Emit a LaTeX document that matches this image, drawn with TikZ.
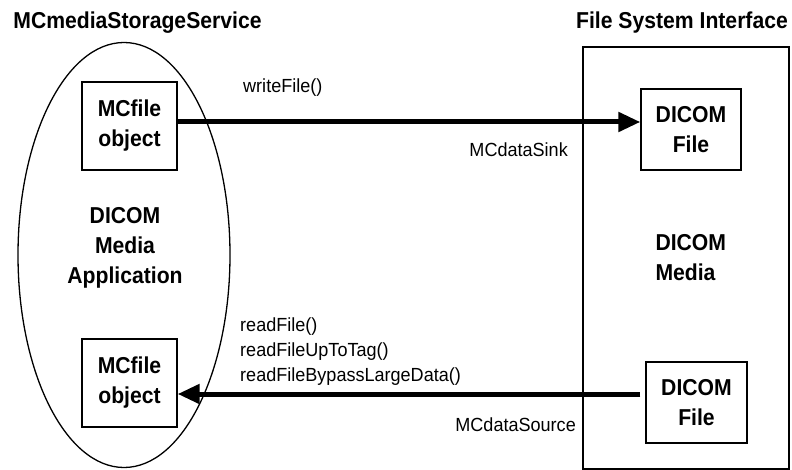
\documentclass[tikz,border=0pt]{standalone}
\usepackage{fontspec}
\setmainfont{Liberation Sans}[FakeStretch=0.95]
\newfontfamily\heavyfont{Liberation Sans Bold}[FakeStretch=0.92]
\usetikzlibrary{shapes.geometric,arrows.meta}

\begin{document}
\begin{tikzpicture}[x=1pt,y=-1pt,
  title/.style={font=\heavyfont\fontsize{23}{25}\selectfont},
  box/.style={draw, line width=1.3pt, inner sep=0pt, align=center, font=\heavyfont\fontsize{23}{30}\selectfont},
  big/.style={align=center, font=\heavyfont\fontsize{23}{30}\selectfont},
  lbl/.style={inner sep=0pt, align=left, font=\fontsize{19}{25}\selectfont},
  flow/.style={line width=5pt, -{Triangle[length=22pt,width=19pt]}}]
\useasboundingbox (0,0) rectangle (792,470);

\node[title] (svc) at (137.5,23) {MCmediaStorageService};
\node[title] (fsi) at (682,23) {File System Interface};

\node[draw, ellipse, line width=1.3pt, inner sep=0pt, minimum width=212pt, minimum height=425pt] (app) at (124,255) {};
\node[big] (apptxt) at (125,248) {DICOM\\Media\\Application};
\node[draw, line width=1.3pt, minimum width=206pt, minimum height=422pt] (fs) at (686,258) {};
\node[big, align=left, anchor=west] (fstxt) at (652,258) {DICOM\\Media};

\node[box, minimum width=95pt, minimum height=88pt] (mc1) at (129.5,126) {MCfile\\object};
\node[box, minimum width=95pt, minimum height=88pt] (mc2) at (129.5,383) {MCfile\\object};
\node[box, minimum width=100pt, minimum height=81pt] (df1) at (691,129.5) {DICOM\\File};
\node[box, minimum width=101pt, minimum height=81pt] (df2) at (696.5,402.5) {DICOM\\File};

\coordinate (w0) at ([yshift=4pt]mc1.east);
\coordinate (r0) at ([xshift=-5pt,yshift=8.5pt]df2.west);
\path[draw,flow] (w0) -- (w0 -| df1.west);
\path[draw,flow] (r0) -- (r0 -| mc2.east);

\node[lbl, anchor=west] (wf) at (243,88) {writeFile()};
\node[lbl, anchor=east] (sink) at (568,150) {MCdataSink};
\node[lbl, anchor=west] (rf) at (240,352) {readFile()\\readFileUpToTag()\\readFileBypassLargeData()};
\node[lbl, anchor=east] (src) at (576,425) {MCdataSource};
\end{tikzpicture}
\end{document}
